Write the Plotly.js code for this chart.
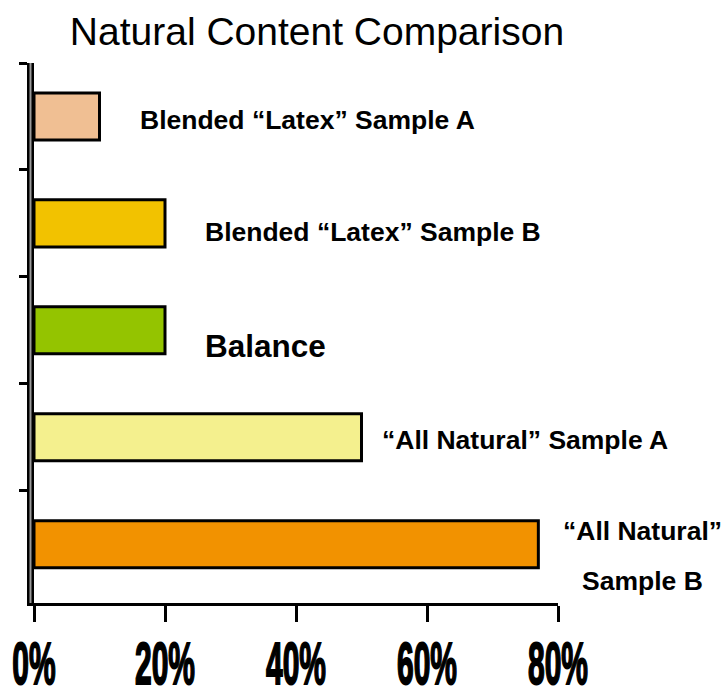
<!DOCTYPE html>
<html>
<head>
<meta charset="utf-8">
<script src="https://cdn.plot.ly/plotly-3.0.1.min.js"></script>
<style>
  html, body { margin: 0; padding: 0; background: #ffffff; }
  #chart { width: 727px; height: 698px; }
</style>
</head>
<body>
<div id="chart"></div>
<script>
// ---- data ----
const categories = [
  'Blended “Latex” Sample A',
  'Blended “Latex” Sample B',
  'Balance',
  '“All Natural” Sample A',
  '“All Natural” Sample B'
];
const values = [10, 20, 20, 50, 77];
const labelText = [
  'Blended “Latex” Sample A',
  'Blended “Latex” Sample B',
  'Balance',
  '“All Natural” Sample A',
  '“All Natural”\nSample B'
];
const tickValues = [0, 20, 40, 60, 80];
const tickLabels = ['0%', '20%', '40%', '60%', '80%'];

// ---- styles ----
const barColors = ['#F0BF93', '#F2C200', '#94C400', '#F4F08E', '#F29200'];
const labelDx = [208, 208, 100, 163, 104];
const labelDy = [-4, -9, -16, -3, 13];
const labelSize = [26.5, 26.5, 31.5, 26.5, 26.5];
const lineGap = 50;

const annotations = [];
labelText.forEach((t, i) => {
  t.split('\n').forEach((line, j) => {
    annotations.push({
      x: values[i], y: categories[i], xref: 'x', yref: 'y',
      text: line, showarrow: false,
      xanchor: 'center', yanchor: 'middle',
      xshift: labelDx[i], yshift: labelDy[i] - j * lineGap,
      font: { family: 'Liberation Sans, Arial, sans-serif', size: labelSize[i], color: '#000', weight: 'bold' }
    });
  });
});

const trace = {
  type: 'bar', orientation: 'h',
  x: values, y: categories,
  marker: { color: barColors, line: { color: '#000', width: 3 } },
  hoverinfo: 'x+y'
};

const layout = {
  width: 727, height: 698,
  paper_bgcolor: '#fff', plot_bgcolor: '#fff',
  margin: { l: 34, r: 169, t: 63, b: 95 },
  showlegend: false,
  bargap: 0.56,
  title: {
    text: 'Natural Content Comparison',
    font: { family: 'Liberation Sans, Arial, sans-serif', size: 39, color: '#000' },
    xref: 'container', yref: 'container',
    x: 0.436, xanchor: 'center', y: 0.955, yanchor: 'middle'
  },
  xaxis: {
    range: [0, 80], showgrid: false, zeroline: false,
    showline: true, linecolor: '#000', linewidth: 3,
    ticks: 'outside', ticklen: 16, tickwidth: 3, tickcolor: '#000',
    tickvals: tickValues, ticktext: tickLabels, tickangle: 0,
    ticklabelstandoff: 0, ticklabeloverflow: 'allow',
    tickfont: { family: 'Liberation Sans, Arial, sans-serif', size: 60, color: '#000', weight: 'bold' },
    fixedrange: true
  },
  yaxis: {
    type: 'category', autorange: false, range: [4.55, -0.5],
    showgrid: false, zeroline: false,
    showline: true, linecolor: '#000', linewidth: 7,
    ticks: 'outside', tickson: 'boundaries', ticklen: 8, tickwidth: 3, tickcolor: '#000',
    showticklabels: false, fixedrange: true
  },
  shapes: [{
    type: 'line', xref: 'paper', yref: 'paper',
    x0: -0.0067, x1: -0.0067, y0: 0, y1: 1,
    line: { color: '#9a9a9a', width: 2 }, layer: 'above'
  }],
  annotations: annotations
};

function squeezeTicks(gd) {
  gd.querySelectorAll('.xtick text').forEach(el => {
    let tr = el.getAttribute('transform') || '';
    tr = tr.replace(/\s*translate\(0,-?\d+\)\s*scale\([^)]*\)/g, '');
    el.setAttribute('transform', tr + ' translate(0,-10) scale(0.5,1)');
    el.style.stroke = '#000';
    el.style.strokeWidth = '2px';
  });
}

Plotly.newPlot('chart', [trace], layout, { displayModeBar: false, staticPlot: true }).then(gd => {
  squeezeTicks(gd);
  gd.on('plotly_afterplot', () => squeezeTicks(gd));
});
</script>
</body>
</html>
